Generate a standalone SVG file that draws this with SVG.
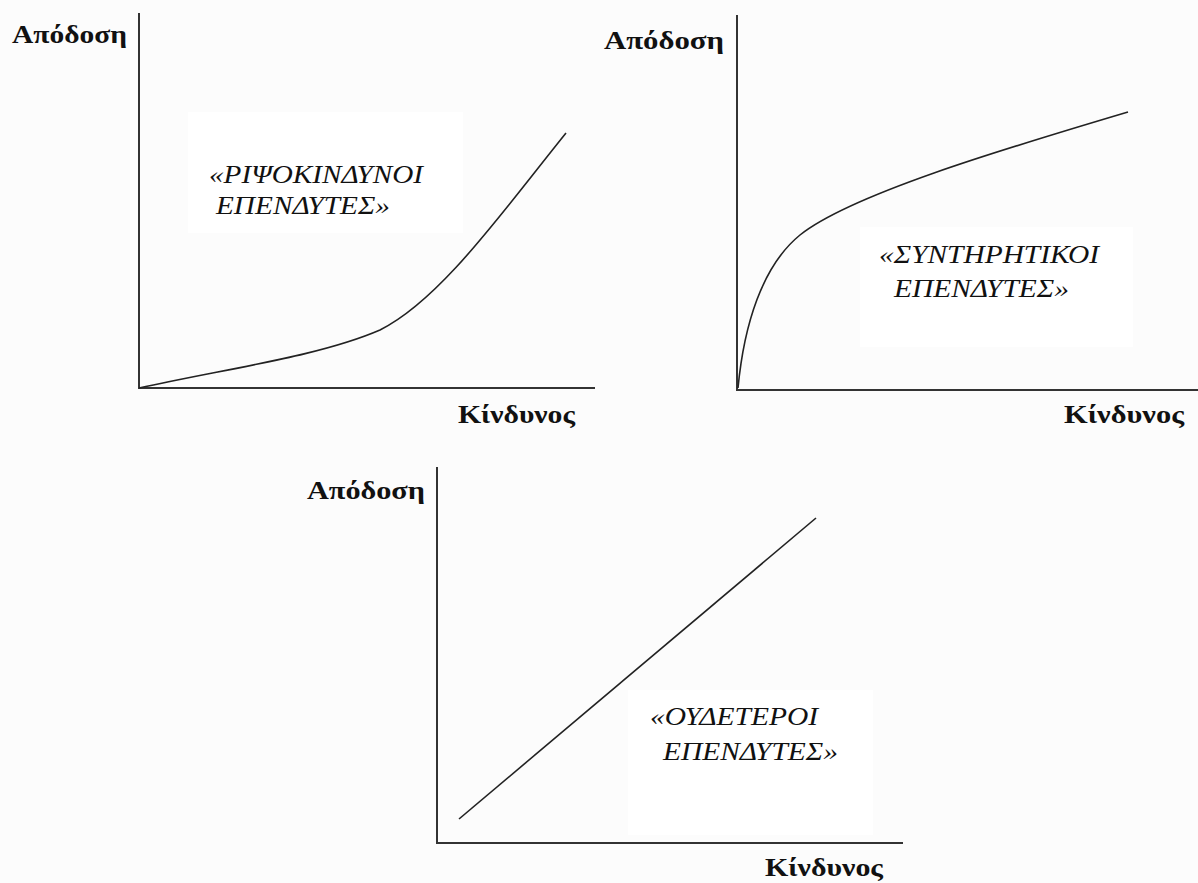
<svg xmlns="http://www.w3.org/2000/svg" width="1198" height="883" viewBox="0 0 1198 883">
<style>
.axis{stroke:#333;stroke-width:2;fill:none}
.curve{stroke:#222;stroke-width:1.6;fill:none}
.ax{font-family:"Liberation Serif","Times New Roman",serif;font-weight:bold;font-size:25px;fill:#111}
.lbl{font-family:"Liberation Serif","Times New Roman",serif;font-style:italic;font-size:26px;fill:#111}
.box{fill:#ffffff;stroke:none}
</style>
<rect x="0" y="0" width="1198" height="883" fill="#fcfcfc"/>
<g id="chart-risk-seeking">
<rect class="box" x="188" y="112" width="275" height="121"/>
<line class="axis" x1="139" y1="13" x2="139" y2="389"/>
<line class="axis" x1="138" y1="388" x2="595" y2="388"/>
<path class="curve" d="M139,388 C230,368 320,356 380,330 C440,300 500,215 566,133"/>
<text class="ax" x="12" y="43" textLength="115" lengthAdjust="spacingAndGlyphs">Απόδοση</text>
<text class="ax" x="458" y="423" textLength="117" lengthAdjust="spacingAndGlyphs">Κίνδυνος</text>
<text class="lbl" x="209" y="183" textLength="214" lengthAdjust="spacingAndGlyphs">«ΡΙΨΟΚΙΝΔΥΝΟΙ</text>
<text class="lbl" x="216" y="214" textLength="174" lengthAdjust="spacingAndGlyphs">ΕΠΕΝΔΥΤΕΣ»</text>
</g>
<g id="chart-conservative">
<rect class="box" x="860" y="227" width="273" height="120"/>
<line class="axis" x1="737" y1="15" x2="737" y2="391"/>
<line class="axis" x1="736" y1="390" x2="1198" y2="390"/>
<path class="curve" d="M738,388 C744,325 762,266 800,235 C850,195 1000,150 1128,112"/>
<text class="ax" x="604" y="49" textLength="120" lengthAdjust="spacingAndGlyphs">Απόδοση</text>
<text class="ax" x="1064" y="423" textLength="120" lengthAdjust="spacingAndGlyphs">Κίνδυνος</text>
<text class="lbl" x="879" y="263" textLength="220" lengthAdjust="spacingAndGlyphs">«ΣΥΝΤΗΡΗΤΙΚΟΙ</text>
<text class="lbl" x="894" y="297" textLength="175" lengthAdjust="spacingAndGlyphs">ΕΠΕΝΔΥΤΕΣ»</text>
</g>
<g id="chart-neutral">
<rect class="box" x="628" y="690" width="245" height="145"/>
<line class="axis" x1="437" y1="467" x2="437" y2="844"/>
<line class="axis" x1="436" y1="843" x2="903" y2="843"/>
<path class="curve" d="M459,819 L816,518"/>
<text class="ax" x="307" y="499" textLength="118" lengthAdjust="spacingAndGlyphs">Απόδοση</text>
<text class="ax" x="765" y="876" textLength="118" lengthAdjust="spacingAndGlyphs">Κίνδυνος</text>
<text class="lbl" x="650" y="725" textLength="168" lengthAdjust="spacingAndGlyphs">«ΟΥΔΕΤΕΡΟΙ</text>
<text class="lbl" x="663" y="760" textLength="175" lengthAdjust="spacingAndGlyphs">ΕΠΕΝΔΥΤΕΣ»</text>
</g>
</svg>
